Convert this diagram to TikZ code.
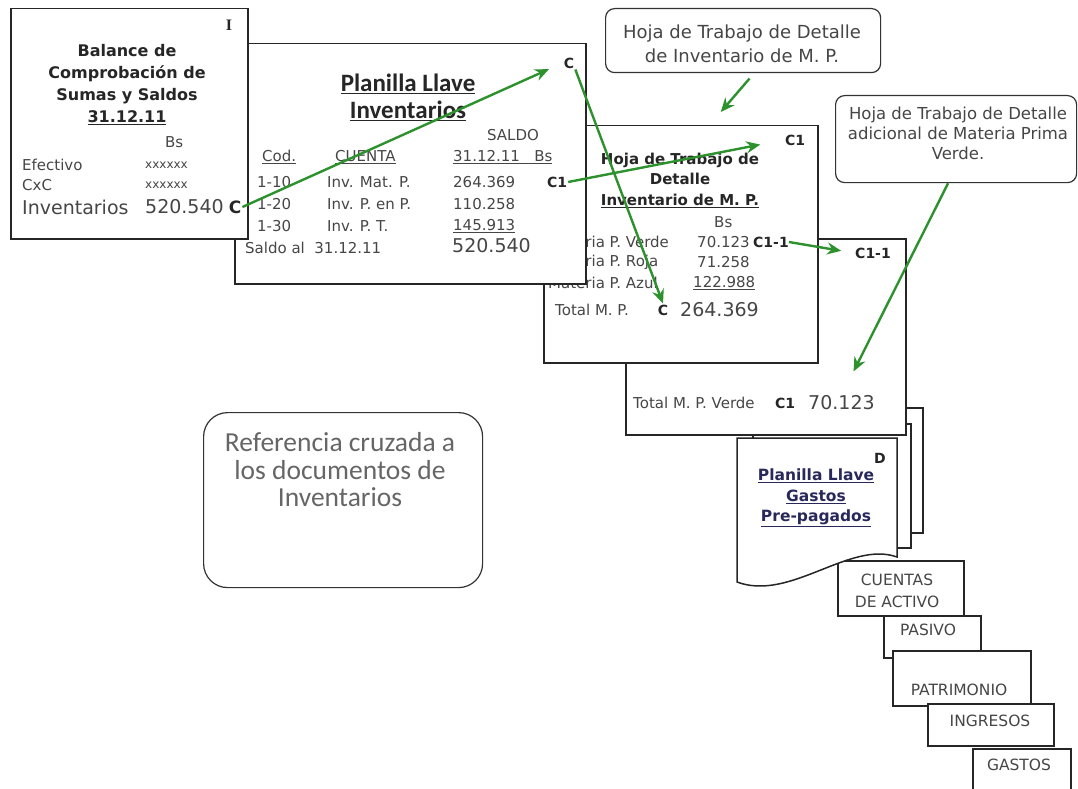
\documentclass[tikz,border=0pt]{standalone}
\usepackage{fontspec}
\setmainfont{DejaVu Sans}
\newfontfamily\calib{Carlito}
\newfontfamily\serifb{Liberation Serif}
\usetikzlibrary{arrows.meta}
\definecolor{refgreen}{RGB}{45,145,45}
\definecolor{txtgray}{RGB}{70,70,70}
\definecolor{titleblue}{RGB}{40,40,90}
\begin{document}
\begin{tikzpicture}[>={Stealth[length=14pt,width=12pt]},x=1pt,y=-1pt,
	sheet/.style={draw=black!85,line width=1.5pt,fill=white,anchor=north west,inner sep=0pt},
	callout/.style={draw=black!80,line width=1.2pt,fill=white,rounded corners=9pt,anchor=north west,inner sep=0pt},
	body/.style={anchor=west,inner sep=0pt,text=txtgray,font=\fontsize{15}{18}\selectfont},
	big/.style={body,font=\fontsize{19}{22}\selectfont},
	lbl/.style={inner sep=1pt,text=black!85,font=\bfseries\fontsize{14}{16}\selectfont},
	head/.style={align=center,inner sep=0pt,text=black!85,font=\bfseries\fontsize{15}{20.5}\selectfont},
	acct/.style={align=center,inner sep=0pt,text=txtgray,font=\fontsize{15.5}{22}\selectfont},
	link/.style={->,draw=refgreen,line width=2.4pt}]
	\useasboundingbox (0,0) rectangle (1078,789);
	\clip (0,0) rectangle (1078,789);
	% pila de planillas
	\node[sheet,minimum width=157pt,minimum height=125pt] (pilaA) at (765,407) {};
	\node[sheet,minimum width=158pt,minimum height=124pt] (pilaB) at (752,423) {};
	\node[sheet,minimum width=126pt,minimum height=55pt] (actB) at (837,560) {};
	\node[acct] (act) at (897,591) {CUENTAS\\DE ACTIVO};
	\draw[draw=black!85,line width=1.5pt,fill=white] (737,438) -- (897,438) -- (897,557) .. controls (850,540) and (790,602) .. (737,582) -- cycle;
	\node[lbl] (lblD) at (880,458) {D};
	\node[head,text=titleblue,font=\bfseries\fontsize{15.5}{20.5}\selectfont] (gastos) at (816,498) {\underline{Planilla Llave}\\\underline{Gastos}\\\underline{Pre-pagados}};
	\node[sheet,minimum width=97pt,minimum height=42pt] (pasB) at (883,615) {};
	\node[acct] (pas) at (928,630) {PASIVO};
	\node[sheet,minimum width=138pt,minimum height=55pt] (patB) at (892,650) {};
	\node[acct] (pat) at (959,690) {PATRIMONIO};
	\node[sheet,minimum width=126pt,minimum height=42pt] (ingB) at (927,703) {};
	\node[acct] (ing) at (990,721) {INGRESOS};
	\node[sheet,minimum width=98pt,minimum height=60pt] (gasB) at (972,748) {};
	\node[acct] (gas) at (1019,765) {GASTOS};
	% hoja C1-1
	\node[sheet,minimum width=280pt,minimum height=196pt] (verde) at (625,238) {};
	\node[lbl] (c11B) at (873,253) {C1-1};
	\node[body] (totV) at (633,403) {Total M. P. Verde};
	\node[lbl] (c1V) at (785,403) {C1};
	\node[big] (v70) at (808,403) {70.123};
	% hoja C1
	\node[sheet,minimum width=274pt,minimum height=237pt] (hoja) at (543,125) {};
	\node[lbl] (c1H) at (795,140) {C1};
	\node[head] (hojaT) at (680,180) {Hoja de Trabajo de\\Detalle\\\underline{Inventario de M. P.}};
	\node[body] (bsH) at (714,222) {Bs};
	\node[body] (mpv) at (548,242) {Materia P. Verde};
	\node[body] (mpvS) at (697,242) {70.123};
	\node[lbl,anchor=west,inner sep=0pt] (c11H) at (753,242) {C1-1};
	\node[body] (mpr) at (548,262) {Materia P. Roja};
	\node[body] (mprS) at (697,262) {71.258};
	\node[body] (mpa) at (548,283) {Materia P. Azul};
	\node[body] (mpaS) at (693,283) {\underline{122.988}};
	\node[body] (totH) at (555,310) {Total M. P.};
	\node[lbl] (cT) at (663,310) {C};
	\node[big] (totHS) at (680,310) {264.369};
	% planilla llave
	\node[sheet,minimum width=351pt,minimum height=240pt] (llave) at (234,43) {};
	\node[lbl] (cP) at (569,63) {C};
	\node[align=center,inner sep=0pt,text=black!85,font=\calib\bfseries\fontsize{25}{27}\selectfont] (llaveT) at (408,97) {\underline{Planilla Llave}\\\underline{Inventarios}};
	\node[body,anchor=center] (saldo) at (513,135) {SALDO};
	\node[body] (cod) at (262,157) {\underline{Cod.}};
	\node[body] (cta) at (335,157) {\underline{CUENTA}};
	\node[body] (fecha) at (453,157) {\underline{31.12.11\ \ \ Bs}};
	\node[body] (r1a) at (257,182) {1-10};
	\node[body] (r1b) at (327,182) {Inv. Mat. P.};
	\node[body] (r1c) at (453,182) {264.369};
	\node[lbl] (c1P) at (557,182) {C1};
	\node[body] (r2a) at (257,204) {1-20};
	\node[body] (r2b) at (327,204) {Inv. P. en P.};
	\node[body] (r2c) at (453,204) {110.258};
	\node[body] (r3a) at (257,226) {1-30};
	\node[body] (r3b) at (327,226) {Inv. P. T.};
	\node[body] (r3c) at (453,226) {\underline{145.913}};
	\node[body] (sal) at (245,248) {Saldo al\ \ 31.12.11};
	\node[big] (salS) at (452,246) {520.540};
	% balance de comprobacion
	\node[sheet,minimum width=237pt,minimum height=230pt] (bal) at (10,8) {};
	\node[lbl,font=\serifb\bfseries\fontsize{16}{18}\selectfont] (lblI) at (229,25) {I};
	\node[align=center,inner sep=0pt,text=black!85,font=\bfseries\fontsize{16}{22}\selectfont] (balT) at (127,85) {Balance de\\Comprobación de\\Sumas y Saldos\\\underline{31.12.11}};
	\node[body] (bsB) at (165,142) {Bs};
	\node[body] (efe) at (22,165) {Efectivo};
	\node[body,font=\fontsize{12}{14}\selectfont] (efeS) at (145,165) {xxxxxx};
	\node[body] (cxc) at (22,185) {CxC};
	\node[body,font=\fontsize{12}{14}\selectfont] (cxcS) at (145,185) {xxxxxx};
	\node[big] (inv) at (22,207) {Inventarios};
	\node[big] (invS) at (145,207) {520.540};
	\node[lbl,font=\bfseries\fontsize{17}{19}\selectfont] (cI) at (235,207) {C};
	% notas
	\node[callout,minimum width=275pt,minimum height=64pt] (notaA) at (605,8) {};
	\node[align=center,inner sep=0pt,text=txtgray,font=\fontsize{18}{24}\selectfont] (notaAT) at (742,44) {Hoja de Trabajo de Detalle\\de Inventario de M. P.};
	\node[callout,minimum width=241pt,minimum height=87pt] (notaB) at (835,95) {};
	\node[align=center,inner sep=0pt,text=txtgray,font=\fontsize{16.5}{20}\selectfont] (notaBT) at (958,133) {Hoja de Trabajo de Detalle\\adicional de Materia Prima\\Verde.};
	\node[callout,rounded corners=24pt,minimum width=279pt,minimum height=175pt] (refB) at (203,412) {};
	\node[align=center,inner sep=0pt,text=black!60,font=\calib\fontsize{27.5}{27.5}\selectfont] (refT) at (340,470) {Referencia cruzada a\\los documentos de\\Inventarios};
	% referencias cruzadas
	\draw[link,shorten >=15pt] (cI.east) -- (cP.west);
	\draw[link] (cP.south east) -- (cT.north);
	\draw[link,shorten >=24pt] (c1P.east) -- (c1H.west);
	\draw[link,shorten >=13pt] (c11H.east) -- (c11B.west);
	\draw[link,shorten <=7pt] ([xshift=11pt]notaA.south) -- ([xshift=40pt,yshift=13pt]hoja.north);
	\draw[link,shorten >=27pt] ([xshift=-8pt]notaB.south) -- (v70.north);
\end{tikzpicture}
\end{document}
